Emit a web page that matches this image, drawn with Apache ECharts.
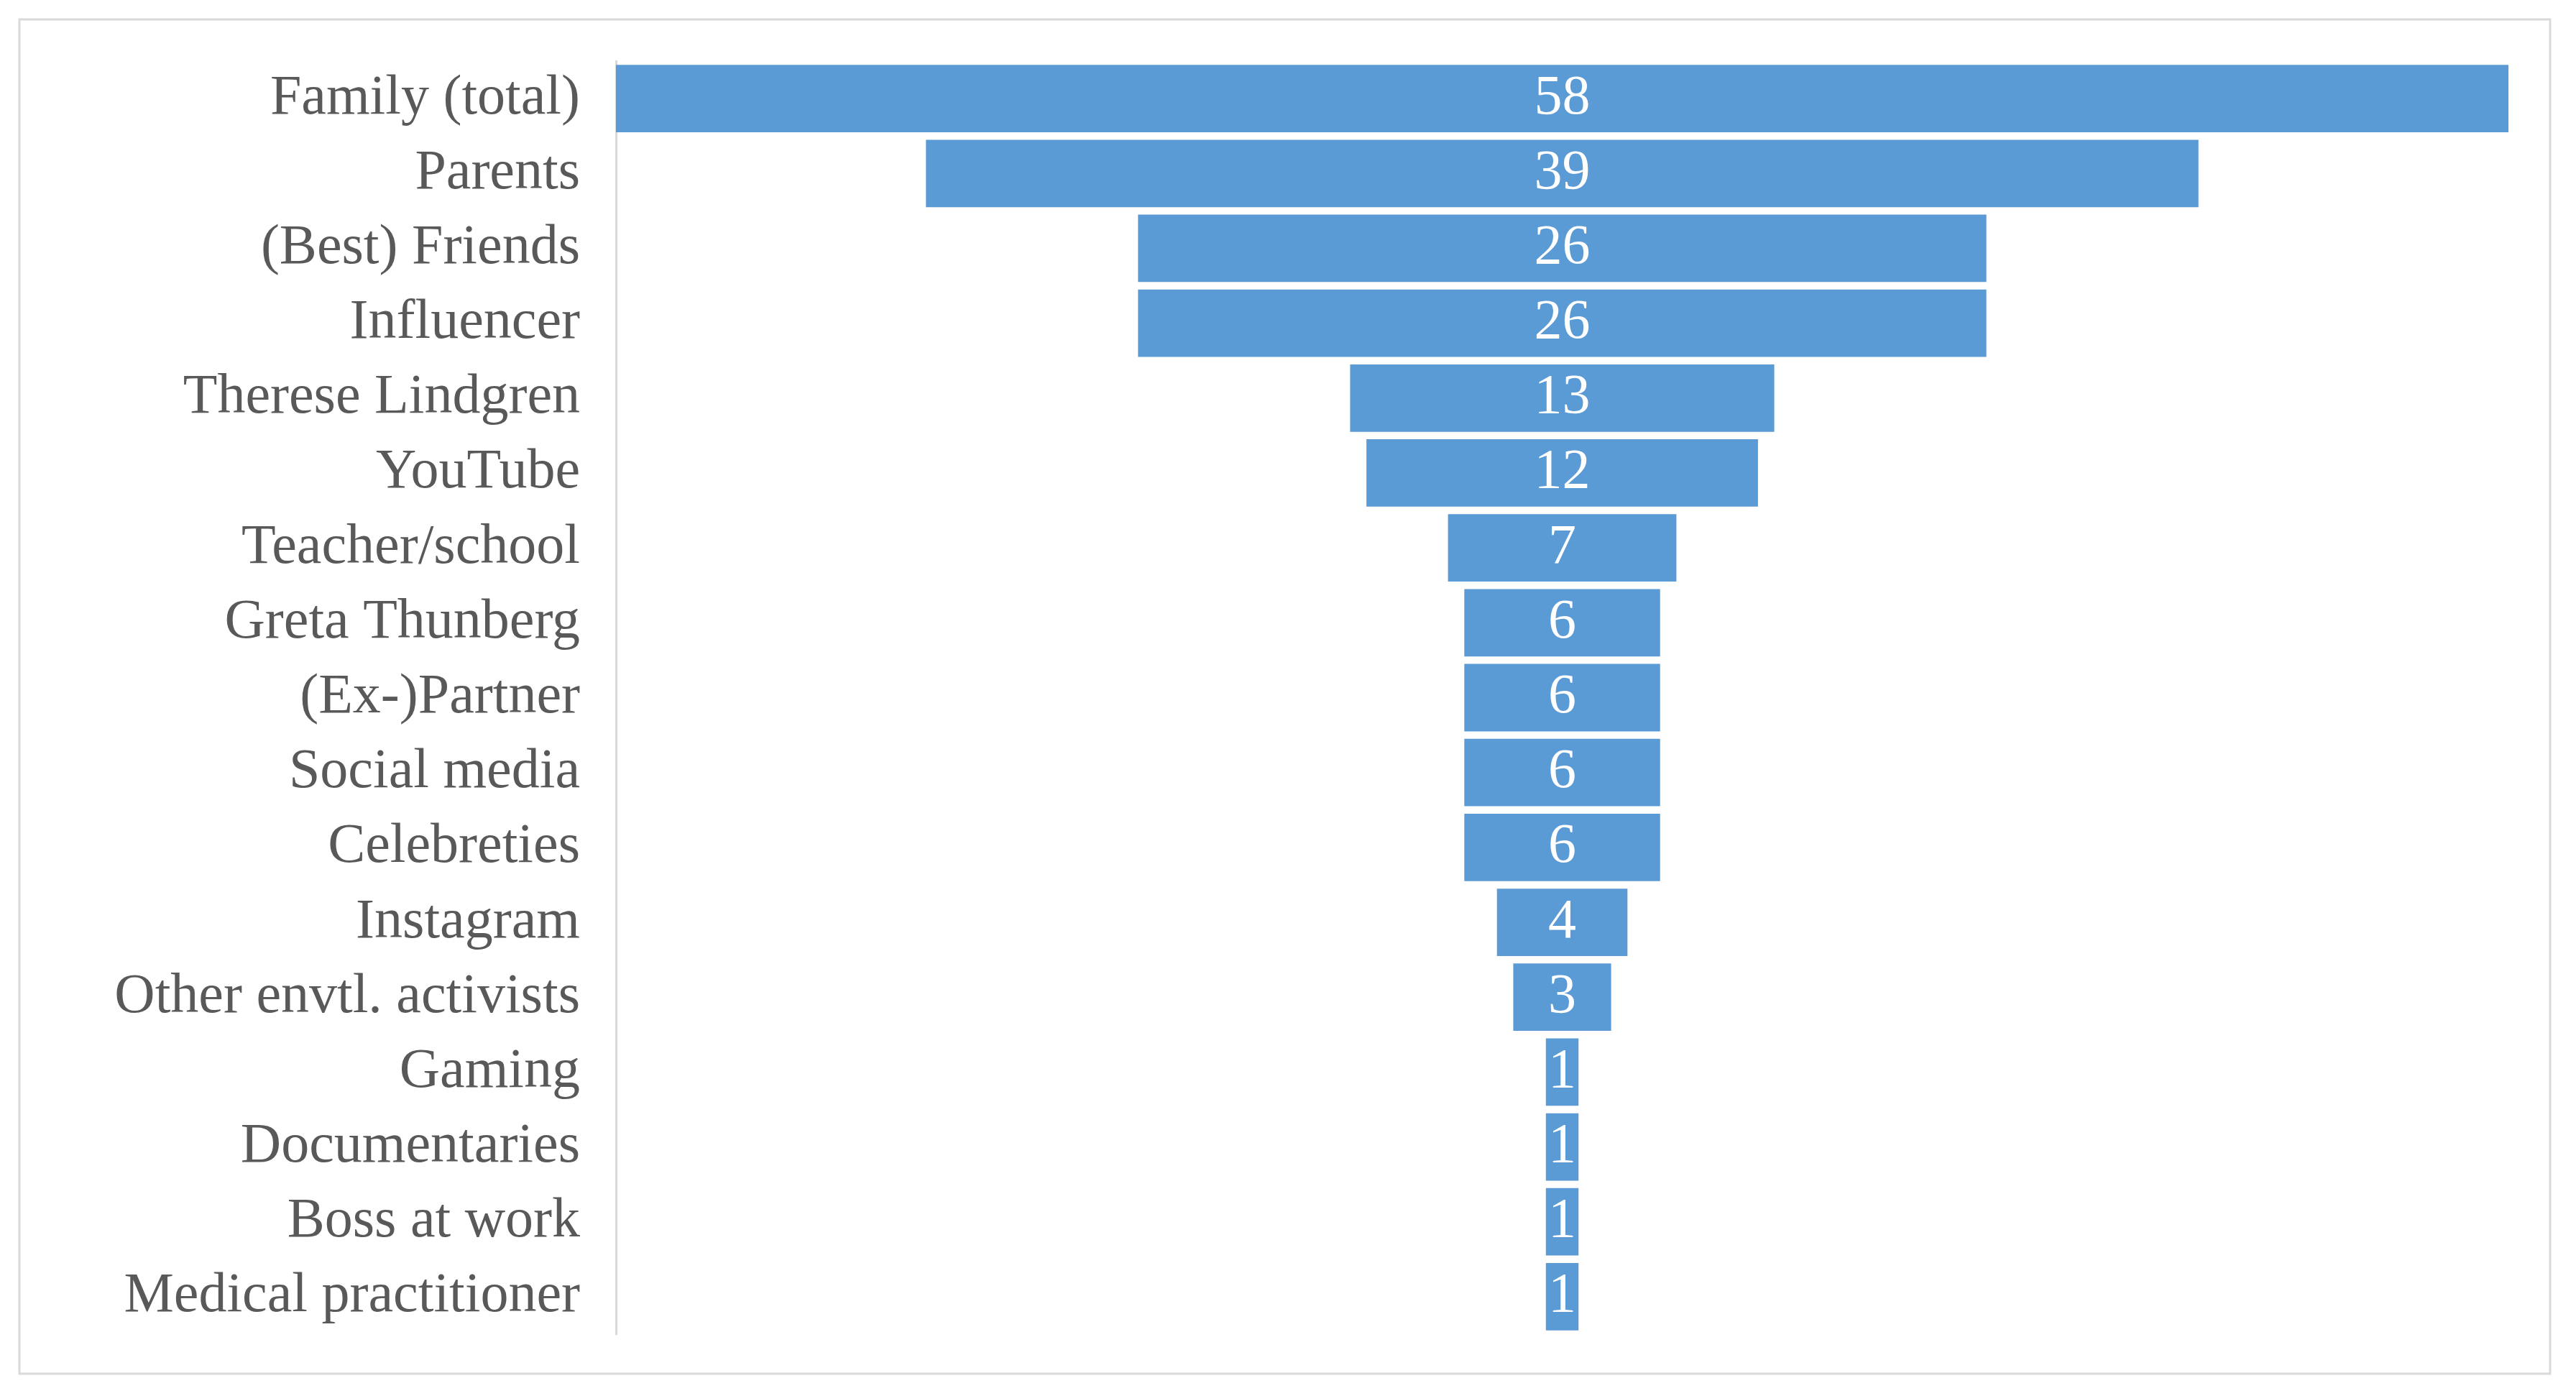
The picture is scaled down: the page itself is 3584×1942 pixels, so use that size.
<!DOCTYPE html>
<html><head><meta charset="utf-8">
<script src="https://cdn.jsdelivr.net/npm/echarts@6/dist/echarts.min.js"></script>
<style>html,body{margin:0;background:#fff}#c{width:3584px;height:1942px}</style>
</head><body><div id="c"></div>
<script>
const categories = ["Family (total)","Parents","(Best) Friends","Influencer","Therese Lindgren","YouTube","Teacher/school","Greta Thunberg","(Ex-)Partner","Social media","Celebreties","Instagram","Other envtl. activists","Gaming","Documentaries","Boss at work","Medical practitioner"];
const values = [58,39,26,26,13,12,7,6,6,6,6,4,3,1,1,1,1];
const maxV = 58;
const offsets = values.map(v => (maxV - v) / 2);
const chart = echarts.init(document.getElementById('c'));
chart.setOption({
  backgroundColor:'#fff',
  animation:false,
  graphic:[{type:'rect',shape:{x:27,y:27,width:3521,height:1884},style:{fill:'none',stroke:'#d9d9d9',lineWidth:3}}],
  grid:{left:857,right:94,top:85,bottom:86},
  xAxis:{type:'value',min:0,max:maxV,show:false},
  yAxis:{type:'category',data:categories,inverse:true,
    axisLine:{show:true,lineStyle:{color:'#d9d9d9',width:3}},axisTick:{show:false},
    axisLabel:{fontFamily:'Liberation Serif',fontSize:78,color:'#595959',margin:50}},
  series:[
    {type:'bar',stack:'a',data:offsets,itemStyle:{color:'transparent'},barCategoryGap:'10%',silent:true},
    {type:'bar',stack:'a',data:values,itemStyle:{color:'#5b9bd5'},barCategoryGap:'10%',
     label:{show:true,position:'inside',color:'#fff',fontFamily:'Liberation Serif',fontSize:78}}
  ]
});
</script></body></html>
